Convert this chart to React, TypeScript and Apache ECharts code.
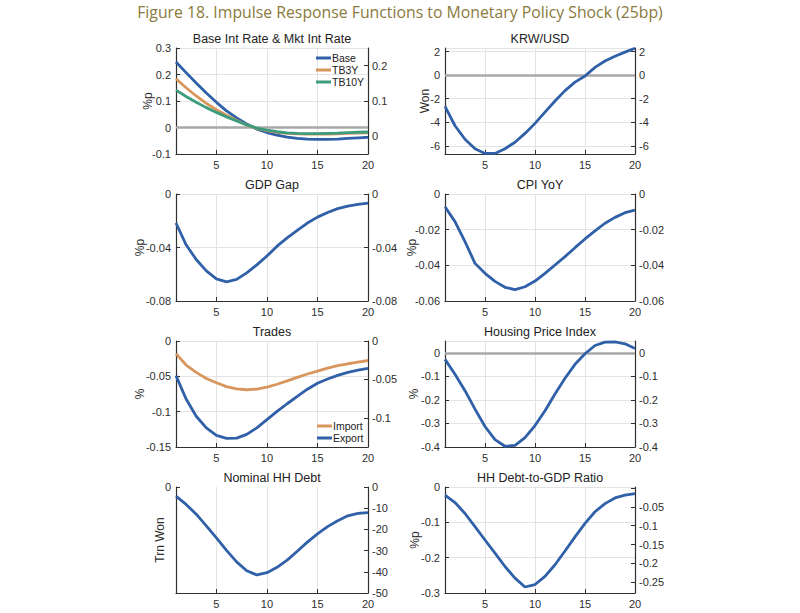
import React, { useEffect, useRef } from 'react';
import * as echarts from 'echarts';

const PERIODS = ['1','2','3','4','5','6','7','8','9','10','11','12','13','14','15','16','17','18','19','20'];

const BASE = [0.247, 0.207, 0.168, 0.130, 0.095, 0.063, 0.036, 0.013, -0.006, -0.019, -0.029, -0.036, -0.041, -0.044, -0.045, -0.045, -0.044, -0.041, -0.039, -0.037];
const TB3Y = [0.184, 0.150, 0.119, 0.091, 0.067, 0.046, 0.027, 0.010, -0.003, -0.012, -0.018, -0.022, -0.024, -0.025, -0.025, -0.025, -0.024, -0.022, -0.021, -0.020];
const TB10Y = [0.141, 0.117, 0.095, 0.075, 0.057, 0.040, 0.025, 0.010, -0.002, -0.010, -0.016, -0.020, -0.022, -0.023, -0.023, -0.022, -0.021, -0.019, -0.018, -0.017];
const KRW_USD = [-2.66, -4.3, -5.45, -6.25, -6.65, -6.65, -6.25, -5.7, -4.95, -4.1, -3.15, -2.2, -1.32, -0.6, -0.08, 0.65, 1.2, 1.6, 1.95, 2.28];
const GDP_GAP = [-0.0217, -0.038, -0.049, -0.0575, -0.0635, -0.0657, -0.0638, -0.059, -0.053, -0.0464, -0.039, -0.0328, -0.0272, -0.0217, -0.0173, -0.0138, -0.0109, -0.009, -0.0077, -0.0069];
const CPI_YOY = [-0.0071, -0.0155, -0.0267, -0.0389, -0.0445, -0.049, -0.0523, -0.0536, -0.052, -0.0488, -0.0445, -0.0398, -0.0351, -0.0301, -0.0252, -0.0207, -0.0164, -0.0131, -0.0105, -0.009];
const IMPORT = [-0.0178, -0.034, -0.0444, -0.053, -0.059, -0.0645, -0.0678, -0.069, -0.068, -0.0654, -0.0612, -0.0565, -0.0514, -0.0467, -0.0425, -0.0383, -0.035, -0.0322, -0.0299, -0.0276];
const EXPORT = [-0.049, -0.082, -0.1065, -0.123, -0.1336, -0.1379, -0.1374, -0.1322, -0.1229, -0.1112, -0.0995, -0.0888, -0.0785, -0.0682, -0.0598, -0.0537, -0.0486, -0.0444, -0.0411, -0.0388];
const HOUSING = [-0.028, -0.091, -0.161, -0.239, -0.313, -0.369, -0.397, -0.393, -0.36, -0.309, -0.246, -0.175, -0.108, -0.049, -0.004, 0.031, 0.045, 0.046, 0.038, 0.018];
const HH_DEBT = [-4.3, -8.2, -12.8, -18.3, -24, -29.9, -35.3, -39.5, -41.5, -40.4, -37.9, -34.5, -30.3, -26, -22.1, -18.7, -15.9, -13.6, -12.4, -12.1];
const HH_DEBT_GDP = [-0.023, -0.044, -0.075, -0.112, -0.15, -0.187, -0.225, -0.258, -0.283, -0.276, -0.253, -0.22, -0.181, -0.141, -0.103, -0.07, -0.047, -0.031, -0.023, -0.019];

const MAIN_TITLE = 'Figure 18. Impulse Response Functions to Monetary Policy Shock (25bp)';

const BLUE = '#3060a8';
const ORANGE = '#d8965c';
const GREEN = '#3c9c7c';
const AXIS = '#303030';
const LABEL = '#2e2e2e';
const GRIDC = '#e3e3e3';
const FONT = '"Liberation Sans", Arial, sans-serif';

const COLS = [{ left: 176, width: 192 }, { left: 445, width: 190 }];
const ROWS = [{ top: 48, height: 106 }, { top: 194, height: 107 }, { top: 341, height: 106 }, { top: 487, height: 106 }];

type AxisSpec = { min: number; max: number; interval?: number; splitNumber?: number; hideMin?: boolean; hideMax?: boolean; hide?: number[]; split?: boolean };
type Panel = { title: string; yName: string; nameGap: number; col: number; row: number; left: AxisSpec; right: AxisSpec; zero: boolean; series: { name: string; data: number[]; color: string }[]; legend?: { left: number; top: number } };

const PANELS: Panel[] = [
  { title: 'Base Int Rate & Mkt Int Rate', yName: '%p', nameGap: 22, col: 0, row: 0,
    left: { min: -0.1, max: 0.3, interval: 0.1 },
    right: { min: -0.05, max: 0.25, splitNumber: 3, hideMin: true, hideMax: true },
    zero: true,
    series: [{ name: 'Base', data: BASE, color: BLUE }, { name: 'TB3Y', data: TB3Y, color: ORANGE }, { name: 'TB10Y', data: TB10Y, color: GREEN }],
    legend: { left: 316, top: 52 } },
  { title: 'KRW/USD', yName: 'Won', nameGap: 14, col: 1, row: 0,
    left: { min: -6.7, max: 2.3, splitNumber: 5, hideMin: true, hideMax: true },
    right: { min: -6.7, max: 2.3, splitNumber: 5, hideMin: true, hideMax: true },
    zero: true,
    series: [{ name: 'KRW/USD', data: KRW_USD, color: BLUE }] },
  { title: 'GDP Gap', yName: '%p', nameGap: 30, col: 0, row: 1,
    left: { min: -0.08, max: 0, interval: 0.04 },
    right: { min: -0.08, max: 0, interval: 0.04 },
    zero: false,
    series: [{ name: 'GDP Gap', data: GDP_GAP, color: BLUE }] },
  { title: 'CPI YoY', yName: '%p', nameGap: 27, col: 1, row: 1,
    left: { min: -0.06, max: 0, interval: 0.02 },
    right: { min: -0.06, max: 0, interval: 0.02 },
    zero: false,
    series: [{ name: 'CPI YoY', data: CPI_YOY, color: BLUE }] },
  { title: 'Trades', yName: '%', nameGap: 30, col: 0, row: 2,
    left: { min: -0.15, max: 0, interval: 0.05 },
    right: { min: -0.138, max: 0, splitNumber: 3, hideMin: true },
    zero: false,
    series: [{ name: 'Import', data: IMPORT, color: ORANGE }, { name: 'Export', data: EXPORT, color: BLUE }],
    legend: { left: 317, top: 420 } },
  { title: 'Housing Price Index', yName: '%', nameGap: 25, col: 1, row: 2,
    left: { min: -0.4, max: 0.05, interval: 0.1, hideMax: true },
    right: { min: -0.4, max: 0.05, interval: 0.1, hideMax: true },
    zero: true,
    series: [{ name: 'Housing Price Index', data: HOUSING, color: BLUE }] },
  { title: 'Nominal HH Debt', yName: 'Trn Won', nameGap: 10, col: 0, row: 3,
    left: { min: -50, max: 0, interval: 50, hideMin: true, split: false },
    right: { min: -50, max: 0, interval: 10 },
    zero: false,
    series: [{ name: 'Nominal HH Debt', data: HH_DEBT, color: BLUE }] },
  { title: 'HH Debt-to-GDP Ratio', yName: '%p', nameGap: 24, col: 1, row: 3,
    left: { min: -0.3, max: 0, interval: 0.1 },
    right: { min: -0.279, max: 0.003, splitNumber: 5, hideMin: true, hideMax: true, hide: [0] },
    zero: false,
    series: [{ name: 'HH Debt-to-GDP Ratio', data: HH_DEBT_GDP, color: BLUE }] },
];

const showX = (_i: number, v: string) => Number(v) % 5 === 0;

function yAxisFor(spec: AxisSpec, gridIndex: number, side: 'left' | 'right', p: Panel) {
  const ax: any = {
    type: 'value',
    gridIndex,
    position: side,
    min: spec.min,
    max: spec.max,
    axisLine: { show: true, onZero: false, lineStyle: { color: AXIS, width: 1.2 } },
    axisTick: { show: true, inside: true, length: 4, lineStyle: { color: AXIS } },
    axisLabel: {
      show: true,
      margin: side === 'left' ? 5 : 4,
      fontSize: 11,
      color: LABEL,
      fontFamily: FONT,
      showMinLabel: !spec.hideMin,
      showMaxLabel: !spec.hideMax,
      formatter: (v: number) => {
        if (spec.hide && spec.hide.some((h) => Math.abs(h - v) < 1e-9)) return '';
        return String(parseFloat(v.toFixed(6)));
      },
    },
    splitLine: { show: side === 'left' && spec.split !== false, lineStyle: { color: GRIDC, width: 1 } },
  };
  if (spec.interval !== undefined) ax.interval = spec.interval;
  if (spec.splitNumber !== undefined) ax.splitNumber = spec.splitNumber;
  if (side === 'left') {
    ax.name = p.yName;
    ax.nameLocation = 'middle';
    ax.nameGap = p.nameGap;
    ax.nameMoveOverlap = false;
    ax.nameTextStyle = { fontSize: 12, color: LABEL, fontFamily: FONT };
  }
  return ax;
}

function buildOption() {
  const grid: any[] = [];
  const xAxis: any[] = [];
  const yAxis: any[] = [];
  const series: any[] = [];
  const title: any[] = [
    {
      text: MAIN_TITLE,
      left: 400,
      top: 4,
      padding: 0,
      textAlign: 'center',
      textStyle: { fontSize: 15.8, fontWeight: 'normal', color: '#8a7a3c', fontFamily: '"Open Sans", Lato, sans-serif' },
    },
  ];
  const legend: any[] = [];

  PANELS.forEach((p, i) => {
    const c = COLS[p.col];
    const r = ROWS[p.row];
    grid.push({ left: c.left, top: r.top, width: c.width, height: r.height });
    title.push({
      text: p.title,
      left: c.left + c.width / 2,
      top: r.top - 16,
      padding: 0,
      textAlign: 'center',
      textStyle: { fontSize: 12.5, fontWeight: 'normal', color: '#222222', fontFamily: FONT },
    });
    xAxis.push({
      type: 'category',
      gridIndex: i,
      data: PERIODS,
      boundaryGap: false,
      axisLine: { show: true, onZero: false, lineStyle: { color: AXIS, width: 1.2 } },
      axisTick: { show: true, inside: true, length: 4, interval: showX, lineStyle: { color: AXIS } },
      axisLabel: { interval: showX, margin: 5, fontSize: 11, color: LABEL, fontFamily: FONT },
      splitLine: { show: true, interval: showX, lineStyle: { color: GRIDC, width: 1 } },
    });
    yAxis.push(yAxisFor(p.left, i, 'left', p));
    yAxis.push(yAxisFor(p.right, i, 'right', p));
    p.series.forEach((s, k) => {
      const ser: any = {
        type: 'line',
        name: s.name,
        xAxisIndex: i,
        yAxisIndex: i * 2,
        data: s.data,
        symbol: 'none',
        showSymbol: false,
        lineStyle: { color: s.color, width: 2.8 },
        itemStyle: { color: s.color },
        z: 3 + k,
      };
      if (k === 0 && p.zero) {
        ser.markLine = {
          silent: true,
          symbol: 'none',
          z: 2,
          label: { show: false },
          lineStyle: { color: '#a8a8a8', width: 2.5, type: 'solid' },
          data: [{ yAxis: 0 }],
        };
      }
      series.push(ser);
    });
    if (p.legend) {
      legend.push({
        data: p.series.map((s) => s.name),
        left: p.legend.left,
        top: p.legend.top,
        orient: 'vertical',
        icon: 'rect',
        itemWidth: 15,
        itemHeight: 3,
        itemGap: 0,
        padding: 0,
        selectedMode: false,
        textStyle: { fontSize: 10.5, color: '#222222', fontFamily: FONT, lineHeight: 12, padding: [0, 0, 0, -4] },
      });
    }
  });

  return {
    animation: false,
    backgroundColor: '#ffffff',
    title,
    legend,
    grid,
    xAxis,
    yAxis,
    series,
  };
}

export default function App() {
  const ref = useRef<HTMLDivElement>(null);
  useEffect(() => {
    if (!ref.current) return;
    const chart = echarts.init(ref.current, undefined, { renderer: 'svg' });
    chart.setOption(buildOption() as any);
    return () => chart.dispose();
  }, []);
  return <div ref={ref} style={{ position: 'fixed', left: 0, top: 0, width: 800, height: 613, background: '#fff' }} />;
}
